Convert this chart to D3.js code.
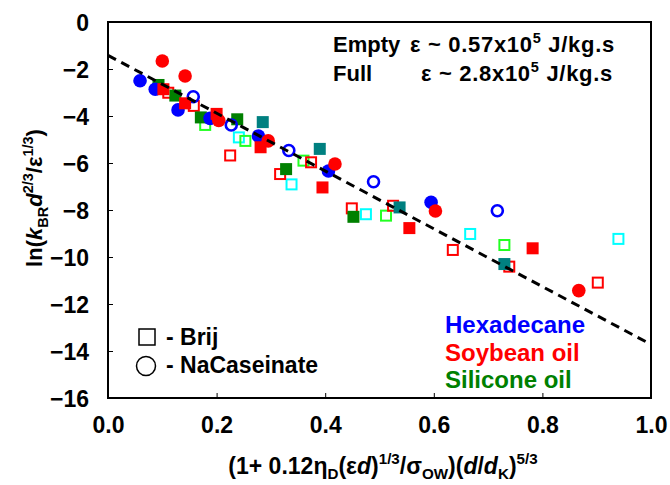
<!DOCTYPE html>
<html>
<head>
<meta charset="utf-8">
<script src="https://cdn.jsdelivr.net/npm/d3@7"></script>
<style>
  html, body { margin: 0; padding: 0; background: #fff; }
  svg { display: block; font-family: "Liberation Sans", Arial, sans-serif; font-weight: bold; }
</style>
</head>
<body>
<svg id="chart" width="670" height="485"></svg>
<script>
// ---- data ----
const xTicks = [0.0, 0.2, 0.4, 0.6, 0.8, 1.0];
const yTicks = [0, -2, -4, -6, -8, -10, -12, -14, -16];

const hexFilledCircles = [[0.059,-2.50],[0.087,-2.86],[0.129,-3.74],[0.188,-4.10],[0.277,-4.85],[0.406,-6.34],[0.595,-7.67]];
const hexOpenCircles   = [[0.157,-3.18],[0.227,-4.38],[0.333,-5.47],[0.489,-6.80],[0.717,-8.03]];
const soyFilledCircles = [[0.100,-1.66],[0.142,-2.30],[0.204,-4.19],[0.295,-5.06],[0.418,-6.04],[0.603,-8.04],[0.867,-11.43]];
const soyFilledSquares = [[0.102,-2.86],[0.142,-3.46],[0.200,-3.91],[0.281,-5.33],[0.395,-7.04],[0.555,-8.77],[0.782,-9.63]];
const soyOpenSquares   = [[0.111,-3.01],[0.158,-3.57],[0.225,-5.68],[0.317,-6.47],[0.374,-5.97],[0.449,-7.93],[0.525,-7.82],[0.635,-9.70],[0.739,-10.41],[0.902,-11.09]];
const silFilledSquares = [[0.093,-2.68],[0.124,-3.13],[0.171,-4.06],[0.238,-4.14],[0.328,-6.26],[0.452,-8.29]];
const silOpenSquares   = [[0.179,-4.38],[0.253,-5.06],[0.360,-5.90],[0.512,-8.24],[0.730,-9.49]];
const tealFilledSquares= [[0.285,-4.26],[0.390,-5.40],[0.537,-7.89],[0.730,-10.30]];
const cyanOpenSquares  = [[0.241,-4.91],[0.338,-6.91],[0.475,-8.18],[0.667,-9.02],[0.940,-9.23]];

const fitIntercept = -1.42;
const fitSlope = -12.3;
const fitX = [0.0, 1.0];

const oilNames = ["Hexadecane", "Soybean oil", "Silicone oil"];
const surfactantNames = ["- Brij", "- NaCaseinate"];

// ---- layout ----
const svg = d3.select("#chart");
const L = 108, R = 651, T = 22, B = 398;
const x = d3.scaleLinear().domain([0, 1]).range([L, R]);
const y = d3.scaleLinear().domain([-16, 0]).range([B, T]);
const FONT = "Liberation Sans, Arial, sans-serif";

// axes
const xAxis = d3.axisBottom(x).tickValues(xTicks).tickSizeInner(-5).tickSizeOuter(0).tickFormat(d3.format(".1f"));
const gx = svg.append("g").attr("transform", `translate(0,${B})`).call(xAxis);
gx.select(".domain").remove();
gx.selectAll(".tick line").attr("stroke", "#000").attr("stroke-width", 1);
gx.selectAll(".tick text").attr("y", 35).attr("dy", 0).attr("fill", "#000")
  .style("font-size", "23px").style("font-weight", "bold").style("font-family", FONT);

const yAxis = d3.axisLeft(y).tickValues(yTicks).tickSizeInner(-5).tickSizeOuter(0).tickFormat(d3.format("d"));
const gy = svg.append("g").attr("transform", `translate(${L},0)`).call(yAxis);
gy.select(".domain").remove();
gy.selectAll(".tick line").attr("stroke", "#000").attr("stroke-width", 1);
gy.selectAll(".tick text").attr("x", -19).attr("dy", "0.36em").attr("fill", "#000")
  .style("font-size", "23px").style("font-weight", "bold").style("font-family", FONT);

// frame
svg.append("rect").attr("x", L).attr("y", T).attr("width", R - L).attr("height", B - T)
  .attr("fill", "none").attr("stroke", "#000").attr("stroke-width", 2);

// markers
const plot = svg.append("g");
function squares(data, color, filled) {
  const s = filled ? 12 : 10;
  plot.append("g").selectAll("rect").data(data).join("rect")
    .attr("x", d => x(d[0]) - s / 2).attr("y", d => y(d[1]) - s / 2)
    .attr("width", s).attr("height", s)
    .attr("fill", filled ? color : "none")
    .attr("stroke", filled ? "none" : color).attr("stroke-width", 2);
}
function circles(data, color, filled) {
  plot.append("g").selectAll("circle").data(data).join("circle")
    .attr("cx", d => x(d[0])).attr("cy", d => y(d[1]))
    .attr("r", filled ? 6.8 : 5.5)
    .attr("fill", filled ? color : "none")
    .attr("stroke", filled ? "none" : color).attr("stroke-width", 2.6);
}
squares(cyanOpenSquares, "#00ffff", false);
squares(silOpenSquares, "#22ff22", false);
squares(soyOpenSquares, "#ff0000", false);
squares(tealFilledSquares, "#008080", true);
squares(silFilledSquares, "#008000", true);
circles(hexOpenCircles, "#0000ff", false);
circles(hexFilledCircles, "#0000ff", true);
squares(soyFilledSquares, "#ff0000", true);
circles(soyFilledCircles, "#ff0000", true);

// fit line
const line = d3.line().x(d => x(d)).y(d => y(fitIntercept + fitSlope * d));
svg.append("path").datum(fitX).attr("d", line)
  .attr("fill", "none").attr("stroke", "#000").attr("stroke-width", 3)
  .attr("stroke-dasharray", "9,6");

// rich text helper
function rich(parent, parts, baseSize, supK = 0.42, subK = 0.25) {
  let cur = 0;
  parts.forEach(p => {
    const target = p.sh === "sup" ? -supK * baseSize : p.sh === "sub" ? subK * baseSize : 0;
    const ts = parent.append("tspan").text(p.t)
      .attr("dy", target - cur)
      .style("font-size", (p.sh ? baseSize * 0.66 : baseSize) + "px");
    if (p.it) ts.style("font-style", "italic");
    cur = target;
  });
}

// top-right annotation
const ann = svg.append("g").style("font-size", "22px");
ann.append("text").attr("x", 333).attr("y", 52).text("Empty");
ann.append("text").attr("x", 333).attr("y", 81).text("Full");
const e1 = ann.append("text").attr("x", 410).attr("y", 52).style("letter-spacing", "0.7px");
rich(e1, [{t: "ε ~ 0.57x10"}, {t: "5", sh: "sup"}, {t: " J/kg.s"}], 22);
const e2 = ann.append("text").attr("x", 421).attr("y", 81).style("letter-spacing", "0.7px");
rich(e2, [{t: "ε ~ 2.8x10"}, {t: "5", sh: "sup"}, {t: " J/kg.s"}], 22);

// oil legend
const oilColors = ["#0000ff", "#ff0000", "#008000"];
const oilY = [333, 361, 388];
svg.append("g").selectAll("text").data(oilNames).join("text")
  .attr("x", 445).attr("y", (d, i) => oilY[i]).attr("fill", (d, i) => oilColors[i])
  .style("font-size", "24px").text(d => d);

// surfactant legend
svg.append("rect").attr("x", 139).attr("y", 329).attr("width", 16).attr("height", 16)
  .attr("fill", "none").attr("stroke", "#000").attr("stroke-width", 1.5);
svg.append("circle").attr("cx", 146).attr("cy", 366).attr("r", 9.5)
  .attr("fill", "none").attr("stroke", "#000").attr("stroke-width", 1.5);
svg.append("text").attr("x", 166).attr("y", 345).style("font-size", "23px").text(surfactantNames[0]);
svg.append("text").attr("x", 166).attr("y", 373).style("font-size", "23px").text(surfactantNames[1]);

// x axis title
const xt = svg.append("text").attr("x", 383).attr("y", 474).attr("text-anchor", "middle").style("font-size", "23px");
rich(xt, [{t: "(1+ 0.12η"}, {t: "D", sh: "sub"}, {t: "(ε"}, {t: "d", it: true}, {t: ")"}, {t: "1/3", sh: "sup"},
          {t: "/σ"}, {t: "OW", sh: "sub"}, {t: ")("}, {t: "d", it: true}, {t: "/"}, {t: "d", it: true},
          {t: "K", sh: "sub"}, {t: ")"}, {t: "5/3", sh: "sup"}], 23, 0.42, 0.2);

// y axis title
const yt = svg.append("text").attr("transform", "translate(42,198) rotate(-90)")
  .attr("text-anchor", "middle").style("font-size", "22px");
rich(yt, [{t: "ln("}, {t: "k", it: true}, {t: "BR", sh: "sub"}, {t: "d", it: true}, {t: "2/3", sh: "sup"},
          {t: "/ε"}, {t: "1/3", sh: "sup"}, {t: ")"}], 22);
</script>
</body>
</html>
